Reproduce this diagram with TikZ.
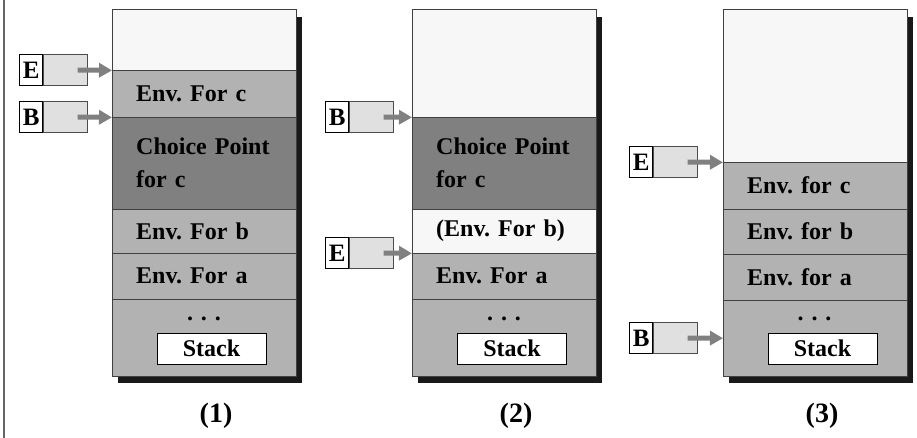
\documentclass[tikz,border=0pt]{standalone}
\usepackage{fontspec}
\setmainfont{Liberation Serif}
\usetikzlibrary{positioning,arrows.meta}
\frenchspacing

\tikzset{
  cell/.style={draw=black!75,anchor=north west,minimum width=184pt,inner xsep=24pt,inner ysep=0pt,text width=136pt,align=left,font=\bfseries\fontsize{24}{33}\selectfont},
  freecell/.style={cell,fill=black!3},
  envcell/.style={cell,fill=black!30},
  cpcell/.style={cell,fill=black!50},
  stackbox/.style={draw,fill=white,minimum width=109pt,minimum height=31pt,inner sep=0pt,font=\bfseries\fontsize{24}{26}\selectfont},
  dots/.style={anchor=base,font=\bfseries\fontsize{24}{26}\selectfont},
  reg/.style={draw,line width=1.2pt,fill=white,anchor=west,minimum width=23pt,minimum height=31pt,inner sep=0pt,font=\bfseries\fontsize{25}{26}\selectfont},
  regval/.style={draw=black!70,fill=black!12,minimum width=44pt,minimum height=31pt,inner sep=0pt},
  ptr/.style={draw=black!50,line width=5pt,-{Triangle[length=13pt,width=14pt]}},
  shadow/.style={fill=black!90},
  caption/.style={font=\bfseries\fontsize{28}{30}\selectfont}
}

\begin{document}
\begin{tikzpicture}[x=1pt,y=-1pt]
 \useasboundingbox (0,0) rectangle (917,438);
 \draw[black!60,line width=1.2pt] (4,0) -- (4,438);

 % shadows
 \fill[shadow] (118,17) rectangle (302,383);
 \fill[shadow] (418,17) rectangle (602,383);
 \fill[shadow] (729,17) rectangle (913,383);

 % (1)
 \node[freecell,minimum height=61pt] (s1free) at (112,9) {};
 \node[envcell,minimum height=47pt] (s1envc) at (112,70) {Env. For c};
 \node[cpcell,minimum height=92pt] (s1cp) at (112,117) {Choice Point\\for c};
 \node[envcell,minimum height=44pt] (s1envb) at (112,209) {Env. For b};
 \node[envcell,minimum height=46pt] (s1enva) at (112,253) {Env. For a};
 \node[envcell,minimum height=77pt] (s1bot) at (112,299) {};
 \node[dots] (s1dots) at (204,320) {.\hspace{8pt}.\hspace{8pt}.};
 \node[stackbox] (s1stack) at (211.5,348.5) {Stack};

 \node[reg] (e1) at (19,70) {E};
 \node[regval,right=0pt of e1] (e1v) {};
 \node[reg] (b1) at (19,117) {B};
 \node[regval,right=0pt of b1] (b1v) {};
 \draw[ptr] ([xshift=-10pt]e1v.east) -- (s1free.south west);
 \draw[ptr] ([xshift=-10pt]b1v.east) -- (s1envc.south west);

 % (2)
 \node[freecell,minimum height=108pt] (s2free) at (412,9) {};
 \node[cpcell,minimum height=92pt] (s2cp) at (412,117) {Choice Point\\for c};
 \node[freecell,minimum height=44pt] (s2envb) at (412,209) {(Env. For b)};
 \node[envcell,minimum height=46pt] (s2enva) at (412,253) {Env. For a};
 \node[envcell,minimum height=77pt] (s2bot) at (412,299) {};
 \node[dots] (s2dots) at (504,320) {.\hspace{8pt}.\hspace{8pt}.};
 \node[stackbox] (s2stack) at (512,348.5) {Stack};

 \node[reg] (b2) at (325,117) {B};
 \node[regval,right=0pt of b2] (b2v) {};
 \node[reg] (e2) at (325,253) {E};
 \node[regval,right=0pt of e2] (e2v) {};
 \draw[ptr] ([xshift=-10pt]b2v.east) -- (s2free.south west);
 \draw[ptr] ([xshift=-10pt]e2v.east) -- (s2envb.south west);

 % (3)
 \node[freecell,minimum height=153pt] (s3free) at (723,9) {};
 \node[envcell,minimum height=47pt] (s3envc) at (723,162) {Env. for c};
 \node[envcell,minimum height=45pt] (s3envb) at (723,209) {Env. for b};
 \node[envcell,minimum height=46pt] (s3enva) at (723,254) {Env. for a};
 \node[envcell,minimum height=76pt] (s3bot) at (723,300) {};
 \node[dots] (s3dots) at (814.5,320) {.\hspace{8pt}.\hspace{8pt}.};
 \node[stackbox] (s3stack) at (822.5,348.5) {Stack};

 \node[reg] (e3) at (629,162) {E};
 \node[regval,right=0pt of e3] (e3v) {};
 \node[reg] (b3) at (629,338) {B};
 \node[regval,right=0pt of b3] (b3v) {};
 \draw[ptr] ([xshift=-10pt]e3v.east) -- (s3free.south west);
 \draw[ptr] ([xshift=-10pt]b3v.east) -- (s3bot.west);

 \node[caption] (c1) at (216,416) {(1)};
 \node[caption] (c2) at (516,416) {(2)};
 \node[caption] (c3) at (822,416) {(3)};
\end{tikzpicture}
\end{document}
